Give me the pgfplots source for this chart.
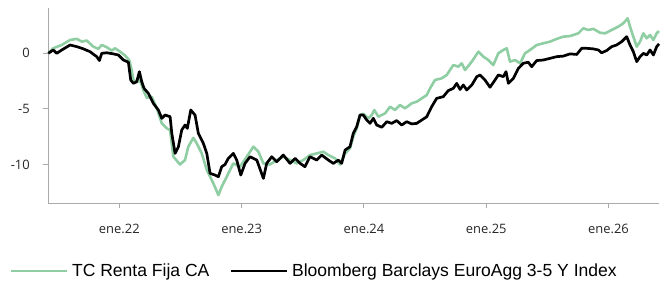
\documentclass[border=0pt]{standalone}
\usepackage{pgfplots}
\pgfplotsset{compat=1.18}
\usepackage{fontspec}
\setmainfont{Open Sans}
\newfontfamily\legendfont{Liberation Sans}
\definecolor{tcgreen}{RGB}{143,205,163}
\definecolor{axgray}{RGB}{170,170,170}
\begin{document}
\begin{tikzpicture}
\useasboundingbox (0,0) rectangle (668bp,283bp);
\begin{axis}[
  at={(48.3bp,79.7bp)}, anchor=south west,
  scale only axis, width=610.7bp, height=195bp,
  xmin=2021.419, xmax=2026.413, ymin=-13.49, ymax=4.05,
  axis x line*=bottom, axis y line*=left,
  axis line style={axgray, line width=1.3bp},
  tick style={axgray, line width=1.1bp},
  tick align=outside, major tick length=5bp,
  xtick={2022,2023,2024,2025,2026},
  xticklabels={ene.22,ene.23,ene.24,ene.25,ene.26},
  ytick={-10,-5,0}, yticklabels={-10,-5,0},
  ticklabel style={font=\fontsize{13}{15}\selectfont, text=black!85},
  xticklabel style={yshift=-12bp},
  yticklabel style={xshift=-10bp},
  clip=false,
  legend columns=2,
  legend cell align=left,
  legend image code/.code={\draw[#1] (0bp,0bp) -- (56bp,0bp);},
  legend style={draw=none, fill=none, at={(-0.068,-0.347)}, anchor=west,
    font=\fontsize{17.6}{20}\selectfont\legendfont,
    /tikz/every even column/.append style={column sep=17bp},
    nodes={inner sep=3.5bp}},
]
\addplot[tcgreen, line width=2.6bp, line join=round] table {
2021.419 0
2021.458 0.45
2021.529 0.75
2021.597 1.2
2021.652 1.3
2021.693 1.05
2021.733 1.15
2021.787 0.6
2021.828 0.4
2021.856 0.75
2021.897 0.55
2021.938 0.25
2021.965 0.45
2022.006 0.15
2022.047 -0.2
2022.082 -0.65
2022.101 -1.5
2022.115 -2.4
2022.142 -2.6
2022.169 -2.4
2022.196 -3.3
2022.224 -4.0
2022.265 -3.9
2022.306 -4.95
2022.347 -6.3
2022.388 -6.75
2022.415 -6.9
2022.442 -9.3
2022.496 -10.0
2022.537 -9.6
2022.564 -8.4
2022.605 -7.6
2022.633 -8.1
2022.674 -9.0
2022.715 -10.5
2022.769 -11.7
2022.810 -12.75
2022.837 -12.0
2022.878 -11.1
2022.932 -9.9
2022.987 -10.2
2023.042 -9.3
2023.096 -8.4
2023.137 -8.85
2023.178 -9.9
2023.232 -10.0
2023.287 -9.6
2023.341 -9.3
2023.396 -9.6
2023.451 -9.9
2023.505 -9.6
2023.559 -9.15
2023.614 -9.0
2023.668 -8.85
2023.709 -9.15
2023.764 -9.45
2023.805 -10.0
2023.846 -9.0
2023.886 -8.55
2023.913 -7.5
2023.941 -6.75
2023.968 -5.55
2023.995 -5.45
2024.036 -5.85
2024.064 -5.55
2024.085 -5.1
2024.118 -5.7
2024.173 -5.4
2024.214 -4.8
2024.254 -5.1
2024.295 -4.65
2024.336 -4.95
2024.391 -4.5
2024.432 -4.35
2024.473 -4.05
2024.514 -3.75
2024.541 -3.15
2024.581 -2.4
2024.636 -2.25
2024.677 -1.95
2024.731 -1.05
2024.772 -1.2
2024.800 -0.9
2024.827 -1.5
2024.882 -0.75
2024.936 0.15
2024.977 -0.3
2025.017 -0.6
2025.058 -1.05
2025.099 0.0
2025.140 0.3
2025.168 0.45
2025.195 -0.75
2025.236 -0.6
2025.277 -0.9
2025.317 0.0
2025.358 0.3
2025.413 0.75
2025.467 0.9
2025.522 1.05
2025.577 1.3
2025.631 1.5
2025.685 1.55
2025.753 1.8
2025.794 2.25
2025.835 2.1
2025.876 2.2
2025.931 1.85
2025.972 1.8
2026.026 2.1
2026.080 2.4
2026.121 2.7
2026.157 3.15
2026.176 2.4
2026.203 1.5
2026.231 0.6
2026.258 1.05
2026.285 1.8
2026.313 1.35
2026.340 1.65
2026.367 1.2
2026.394 1.8
2026.413 2.0
};
\addlegendentry{TC Renta Fija CA}
\addplot[black, line width=2.7bp, line join=round] table {
2021.419 0
2021.460 0.3
2021.488 0.0
2021.529 0.3
2021.597 0.75
2021.652 0.6
2021.706 0.4
2021.760 0.15
2021.815 -0.3
2021.837 -0.65
2021.856 0.0
2021.897 0.05
2021.951 -0.05
2021.992 -0.15
2022.033 -0.6
2022.074 -0.8
2022.093 -2.4
2022.115 -2.7
2022.142 -2.55
2022.164 -1.65
2022.183 -2.55
2022.202 -3.15
2022.237 -3.6
2022.278 -4.5
2022.319 -5.1
2022.347 -5.85
2022.374 -5.55
2022.415 -5.7
2022.429 -7.2
2022.456 -9.0
2022.483 -8.4
2022.510 -6.9
2022.537 -6.45
2022.556 -6.75
2022.584 -5.1
2022.619 -5.55
2022.646 -7.2
2022.687 -8.1
2022.715 -9.0
2022.742 -10.8
2022.783 -10.95
2022.810 -11.1
2022.837 -10.2
2022.864 -10.0
2022.891 -9.45
2022.932 -9.0
2022.960 -9.6
2022.993 -10.95
2023.028 -9.9
2023.069 -9.3
2023.124 -9.6
2023.178 -11.25
2023.205 -9.9
2023.246 -9.3
2023.287 -9.75
2023.341 -9.15
2023.396 -9.9
2023.437 -9.45
2023.478 -9.9
2023.518 -10.2
2023.559 -9.3
2023.614 -9.6
2023.655 -9.15
2023.709 -9.6
2023.750 -9.9
2023.791 -9.6
2023.818 -9.9
2023.846 -8.7
2023.886 -8.4
2023.913 -7.2
2023.941 -6.6
2023.968 -5.55
2023.995 -5.55
2024.023 -6.0
2024.050 -6.3
2024.077 -5.85
2024.105 -6.45
2024.146 -6.65
2024.187 -6.15
2024.227 -6.3
2024.268 -6.05
2024.309 -6.45
2024.350 -6.15
2024.391 -6.35
2024.432 -6.3
2024.473 -6.0
2024.514 -5.7
2024.554 -4.8
2024.595 -4.05
2024.649 -3.9
2024.690 -3.35
2024.731 -3.15
2024.759 -2.7
2024.786 -3.25
2024.813 -2.85
2024.841 -3.3
2024.882 -2.85
2024.923 -2.1
2024.950 -1.95
2024.990 -2.4
2025.031 -3.05
2025.072 -2.4
2025.099 -1.95
2025.140 -2.1
2025.162 -1.65
2025.181 -2.7
2025.222 -2.25
2025.263 -1.35
2025.303 -0.9
2025.344 -0.8
2025.372 -1.2
2025.413 -0.65
2025.467 -0.6
2025.522 -0.45
2025.577 -0.3
2025.631 -0.25
2025.685 -0.05
2025.740 -0.1
2025.781 0.45
2025.822 0.45
2025.876 0.4
2025.917 0.3
2025.944 0.05
2025.985 0.25
2026.026 0.6
2026.067 0.75
2026.108 1.05
2026.149 1.5
2026.176 0.75
2026.203 0.15
2026.231 -0.75
2026.258 -0.3
2026.285 0.0
2026.313 -0.15
2026.340 0.3
2026.367 -0.15
2026.394 0.6
2026.413 0.85
};
\addlegendentry{Bloomberg Barclays EuroAgg 3-5 Y Index}
\end{axis}
\end{tikzpicture}
\end{document}
